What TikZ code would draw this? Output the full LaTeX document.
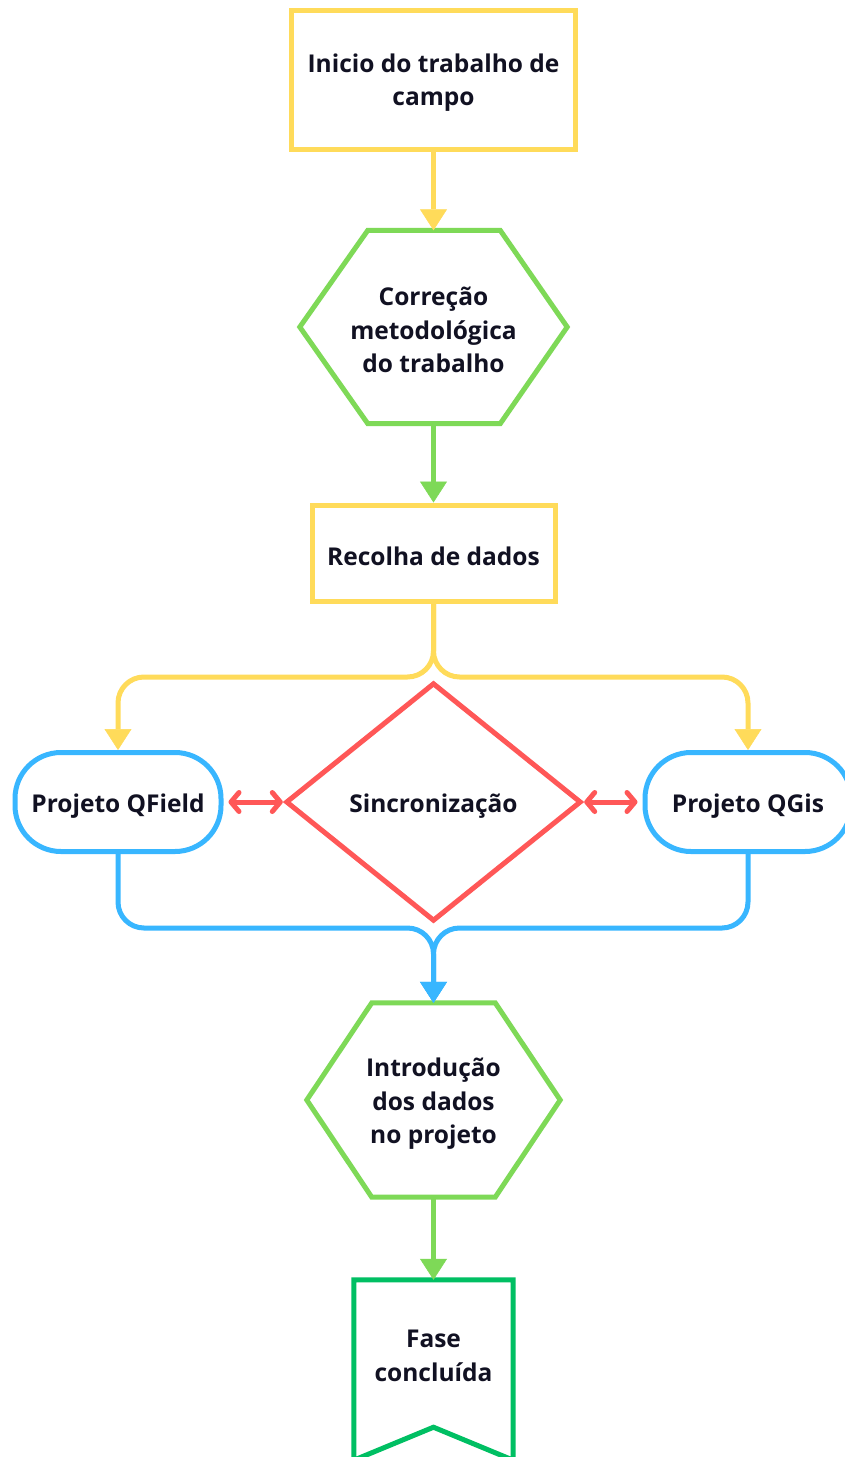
\documentclass[tikz,border=0pt]{standalone}
\usepackage{fontspec}
\setmainfont{Open Sans}
\usetikzlibrary{arrows.meta}
\definecolor{cyel}{HTML}{FFDB5A}
\definecolor{cgrn}{HTML}{7ED957}
\definecolor{cblu}{HTML}{38B6FF}
\definecolor{cred}{HTML}{FF5757}
\definecolor{cdkg}{HTML}{00BF63}
\definecolor{ctxt}{HTML}{111122}
\tikzset{
  txt/.style={font=\fontsize{24.5}{33.5}\selectfont\bfseries, text=ctxt, align=center, inner sep=0pt},
  shapebox/.style={draw, line width=5pt, inner sep=0pt},
  frame/.style={inner sep=0pt},
  outline/.style={line width=5pt, line join=miter},
  flow/.style={line width=5pt, -{Triangle[width=27pt,length=21pt,line width=0.5pt]}},
  sync/.style={line width=5pt, cred, {Straight Barb[length=8pt,width=19pt,round]}-{Straight Barb[length=8pt,width=19pt,round]}},
}
\begin{document}
\begin{tikzpicture}[x=1pt,y=-1pt]
\useasboundingbox[fill=white] (0,0) rectangle (845,1457);
\clip (0,0) rectangle (845,1457);

% shapes
\node[shapebox, draw=cyel, minimum width=284pt, minimum height=139pt] (n1) at (433.5,80) {};
\node[frame, minimum width=267pt, minimum height=193pt] (h1) at (433.5,327) {};
\draw[outline, cgrn] ([xshift=68pt]h1.north west) -- ([xshift=-67pt]h1.north east) -- (h1.east) -- ([xshift=-67pt]h1.south east) -- ([xshift=68pt]h1.south west) -- (h1.west) -- cycle;
\node[shapebox, draw=cyel, minimum width=243pt, minimum height=96pt] (n2) at (433.5,553) {};

\node[shapebox, draw=cblu, rounded corners=46pt, minimum width=206pt, minimum height=99pt] (qf) at (118,802) {};
\node[shapebox, draw=cblu, rounded corners=46pt, minimum width=206pt, minimum height=99pt] (qg) at (748,802) {};
\node[frame, minimum width=293pt, minimum height=236pt] (sy) at (433.5,802) {};
\draw[outline, cred] (sy.north) -- (sy.east) -- (sy.south) -- (sy.west) -- cycle;

\node[frame, minimum width=253pt, minimum height=194pt] (h2) at (433.5,1100) {};
\draw[outline, cgrn] ([xshift=65pt]h2.north west) -- ([xshift=-65pt]h2.north east) -- (h2.east) -- ([xshift=-65pt]h2.south east) -- ([xshift=65pt]h2.south west) -- (h2.west) -- cycle;

\node[frame, minimum width=159pt, minimum height=180pt] (fin) at (433.5,1370) {};
\draw[outline, cdkg] (fin.south west) -- (fin.north west) -- (fin.north east) -- (fin.south east) -- ([yshift=33pt]fin.south) -- cycle;

% texts
\node[txt] (t1) at (433.5,82.5) {Inicio do trabalho de\\campo};
\node[txt] (th1) at (433.5,330) {Correção\\metodológica\\do trabalho};
\node[txt] (tn2) at (433.5,556.5) {Recolha de dados};
\node[txt] (tqf) at (118,806) {Projeto QField};
\node[txt] (tsy) at (433.5,806) {Sincronização};
\node[txt] (tqg) at (748,806) {Projeto QGis};
\node[txt] (th2) at (433.5,1104) {Introdução\\dos dados\\no projeto};
\node[txt] (tfin) at (433.5,1356) {Fase\\concluída};

% coordinates
\coordinate (split) at (433.5,677);
\coordinate (merge) at (433.5,928);

% connectors
\draw[flow, cyel] (n1.south) -- (h1.north);
\draw[flow, cgrn] (h1.south) -- (n2.north);
\draw[flow, cyel, rounded corners=26pt] (n2.south) -- (split) -| (qf.north);
\draw[flow, cyel, rounded corners=26pt] (n2.south) -- (split) -| (qg.north);
\draw[flow, cblu, rounded corners=26pt] (qf.south) |- (merge) -- (h2.north);
\draw[flow, cblu, rounded corners=26pt] (qg.south) |- (merge) -- (h2.north);
\draw[flow, cgrn] (h2.south) -- (fin.north);
\draw[sync, shorten <=5pt, shorten >=4pt] (qf.east) -- (sy.west);
\draw[sync, shorten <=4pt, shorten >=5pt] (sy.east) -- (qg.west);
\end{tikzpicture}
\end{document}
